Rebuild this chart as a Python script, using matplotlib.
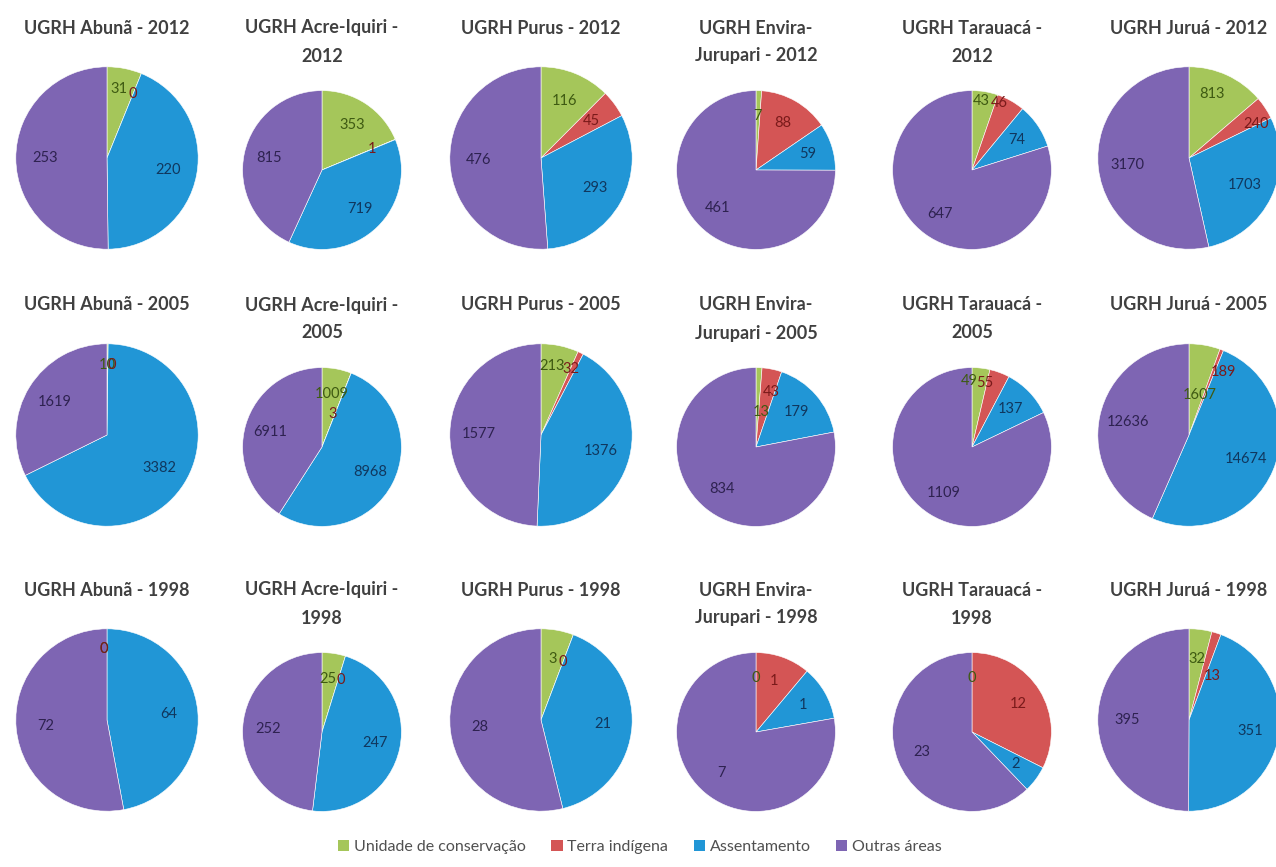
import matplotlib.pyplot as plt
from matplotlib.patches import Patch

# --- Data ---
regions = ['Abunã', 'Acre-Iquiri', 'Purus', 'Envira-Jurupari', 'Tarauacá', 'Juruá']
years = ['2012', '2005', '1998']
categories = ['Unidade de conservação', 'Terra indígena', 'Assentamento', 'Outras áreas']

# values per region: [conservação, indígena, assentamento, outras]
values_2012 = [[31, 0, 220, 253], [353, 1, 719, 815], [116, 45, 293, 476],
               [7, 88, 59, 461], [43, 46, 74, 647], [813, 240, 1703, 3170]]
values_2005 = [[10, 0, 3382, 1619], [1009, 3, 8968, 6911], [213, 32, 1376, 1577],
               [13, 43, 179, 834], [49, 55, 137, 1109], [1607, 189, 14674, 12636]]
values_1998 = [[0, 0, 64, 72], [25, 0, 247, 252], [3, 0, 21, 28],
               [0, 1, 1, 7], [0, 12, 2, 23], [32, 13, 351, 395]]
values_by_year = [values_2012, values_2005, values_1998]

# title line-break layout (Excel wrapped some of them)
title_fmt = ['UGRH Abunã - {}', 'UGRH Acre-Iquiri -\n{}', 'UGRH Purus - {}',
             'UGRH Envira-\nJurupari - {}', 'UGRH Tarauacá -\n{}', 'UGRH Juruá - {}']

colors = ['#A5C65A', '#D45555', '#2196D6', '#7E65B3']
text_colors = ['#3E5A12', '#7A1A1A', '#10375E', '#2E2250']

# label nudges in pixels (dx right, dy down) for the crowded small slices
label_nudge = {
    (0, 0, 0): (0, -8), (0, 0, 1): (2, -7),
    (0, 4, 0): (0, -16), (0, 4, 1): (1, -20),
    (0, 5, 0): (-3, -8), (0, 5, 1): (15, 0),
    (1, 0, 0): (0, -8), (1, 0, 1): (4, -8),
    (1, 1, 1): (-9, 17),
    (1, 2, 0): (-2, -8), (1, 2, 1): (3, -10),
    (1, 3, 0): (3, 19), (1, 3, 1): (4, -2),
    (1, 4, 0): (-9, -12), (1, 4, 1): (-6, -13),
    (1, 5, 0): (0, 21), (1, 5, 1): (12, -5),
    (2, 0, 0): (-3, -9), (2, 0, 1): (-3, -9),
    (2, 1, 0): (-2, 0), (2, 1, 1): (3, 0),
    (2, 5, 1): (5, 15),
}

# --- Layout (pixels) ---
W, H = 1276, 867
col_x = [107, 322, 541, 756, 972, 1189]
title_y = [28, 305, 590]

plt.rcParams['font.family'] = ['Lato', 'DejaVu Sans']
fig = plt.figure(figsize=(W / 100, H / 100), dpi=100)

for r, year in enumerate(years):
    for c, region in enumerate(regions):
        title = title_fmt[c].format(year)
        two_lines = '\n' in title
        rad = 81 if two_lines else 93
        cy = title_y[r] + (142 if two_lines else 130)
        cx = col_x[c]
        ax = fig.add_axes([(cx - rad) / W, 1 - (cy + rad) / H, 2 * rad / W, 2 * rad / H])
        vals = values_by_year[r][c]
        wedges, texts = ax.pie(vals, colors=colors, startangle=90, counterclock=False,
                               labels=[str(v) for v in vals], labeldistance=0.68,
                               wedgeprops=dict(linewidth=0.4, edgecolor='white'),
                               textprops=dict(fontsize=10.5))
        px = 1.02 / rad  # data units per pixel
        for i, (t, tc) in enumerate(zip(texts, text_colors)):
            t.set_color(tc)
            t.set_ha('center')
            t.set_va('center')
            if (r, c, i) in label_nudge:
                dx, dy = label_nudge[(r, c, i)]
                x0, y0 = t.get_position()
                t.set_position((x0 + dx * px, y0 - dy * px))
        ax.set_xlim(-1.02, 1.02)
        ax.set_ylim(-1.02, 1.02)
        ax.set_aspect('equal')
        lines = title.split('\n')
        for k, line in enumerate(lines):
            fig.text(cx / W, 1 - (title_y[r] + 28 * k) / H, line, ha='center', va='center',
                     fontsize=13, fontweight='bold', color='#404040')

handles = [Patch(facecolor=col, edgecolor='none') for col in colors]
fig.legend(handles, categories, loc='center', bbox_to_anchor=(640 / W, 1 - 847 / H),
           ncol=4, frameon=False, fontsize=11.5, handlelength=0.7, handleheight=0.7,
           handletextpad=0.3, columnspacing=1.6, labelcolor='#505050')

fig.savefig('out.png', dpi=100, facecolor='white')
